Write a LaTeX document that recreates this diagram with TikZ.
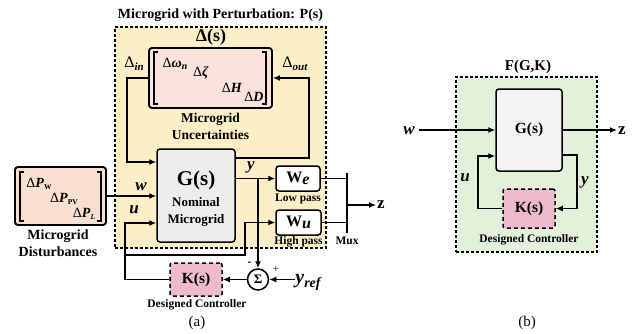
\documentclass[tikz,border=0pt]{standalone}
\usepackage{fontspec}
\setmainfont{Liberation Serif}
\usetikzlibrary{arrows.meta}
\definecolor{yel}{HTML}{FCEFC8}
\definecolor{grn}{HTML}{E3F0DA}
\definecolor{dpink}{HTML}{FAE3DA}
\definecolor{dist}{HTML}{F9DFCF}
\definecolor{kpink}{HTML}{EDBBCD}
\definecolor{ggray}{HTML}{EDEDED}
\begin{document}
\begin{tikzpicture}[x=1pt,y=-1pt,
  arr/.style={line width=1.3pt,-{Latex[length=7pt,width=6pt]}},
  ln/.style={line width=1.3pt},
  outerbox/.style={draw,dashed,line width=1.4pt,dash pattern=on 3pt off 2pt},
  blk/.style={draw,line width=1.5pt,rounded corners=3pt,inner sep=0pt},
  kbox/.style={draw,line width=1.5pt,dashed,dash pattern=on 4pt off 3pt,fill=kpink,rounded corners=2pt,inner sep=0pt,font=\bfseries\fontsize{15.5}{17}\selectfont},
  lbl/.style={font=\bfseries\fontsize{12}{14}\selectfont,inner sep=0pt,align=center},
  var/.style={font=\bfseries\itshape\fontsize{17}{19}\selectfont,inner sep=0pt},
  brk/.style={line width=1.3pt}
]
\useasboundingbox (0,0) rectangle (635,333);
% ---------- (a) ----------
\node[outerbox,fill=yel,minimum width=211pt,minimum height=221pt,inner sep=0pt] (P) at (220.5,137.5) {};
\node[lbl,font=\bfseries\fontsize{14}{16}\selectfont] (Ptitle) at (220.5,15) {Microgrid with Perturbation: P(s)};
\node[lbl,font=\bfseries\fontsize{18}{20}\selectfont] (Dtitle) at (211,37) {Δ(s)};
\node[blk,fill=dpink,minimum width=123pt,minimum height=60pt,line width=1.9pt] (D) at (210.5,78) {};
% brackets of uncertainty matrix
\draw[brk] (158,52) -- (154,52) -- (154,104) -- (158,104);
\draw[brk] (262,52) -- (266,52) -- (266,104) -- (262,104);
\node[inner sep=0pt,font=\fontsize{14}{16}\selectfont] (d1) at (175,64) {Δ\textbf{\textit{ω}}\raisebox{-0.3ex}{\fontsize{10}{11}\selectfont\textbf{\textit{n}}}};
\node[inner sep=0pt,font=\fontsize{14}{16}\selectfont] (d2) at (201,73) {Δ\textbf{\textit{ζ}}};
\node[inner sep=0pt,font=\fontsize{14}{16}\selectfont] (d3) at (232,88) {Δ\textbf{\textit{H}}};
\node[inner sep=0pt,font=\fontsize{14}{16}\selectfont] (d4) at (254,97) {Δ\textbf{\textit{D}}};
\node[lbl,font=\bfseries\fontsize{13.5}{17}\selectfont] (Dlab) at (210.5,126.5) {Microgrid\\Uncertainties};
\node[inner sep=0pt,font=\fontsize{16}{18}\selectfont] (Din) at (134,64) {Δ\raisebox{-0.4ex}{\fontsize{11}{12}\selectfont\textbf{\textit{in}}}};
\node[inner sep=0pt,font=\fontsize{16}{18}\selectfont] (Dout) at (295,64) {Δ\raisebox{-0.4ex}{\fontsize{11}{12}\selectfont\textbf{\textit{out}}}};
% nominal plant
\node[blk,fill=ggray,minimum width=78pt,minimum height=93pt] (G) at (196,195.5) {};
\node[lbl,font=\bfseries\fontsize{21}{23}\selectfont] (Gt) at (196,180) {G(s)};
\node[lbl,font=\bfseries\fontsize{13}{17}\selectfont] (Gl) at (196,212) {Nominal\\Microgrid};
% disturbances
\node[blk,fill=dist,minimum width=91pt,minimum height=58pt,line width=1.9pt] (W) at (60.5,196) {};
\draw[brk] (24,172) -- (20,172) -- (20,221) -- (24,221);
\draw[brk] (97,172) -- (101,172) -- (101,221) -- (97,221);
\node[inner sep=0pt,font=\fontsize{14}{16}\selectfont] (p1) at (39,184) {Δ\textbf{\textit{P}}\raisebox{-0.3ex}{\fontsize{7.5}{8}\selectfont\textbf{W}}};
\node[inner sep=0pt,font=\fontsize{14}{16}\selectfont] (p2) at (64,199) {Δ\textbf{\textit{P}}\raisebox{-0.3ex}{\fontsize{7.5}{8}\selectfont\textbf{PV}}};
\node[inner sep=0pt,font=\fontsize{14}{16}\selectfont] (p3) at (84,214) {Δ\textbf{\textit{P}}\raisebox{-0.3ex}{\fontsize{7.5}{8}\selectfont\textbf{\textit{L}}}};
\node[lbl,font=\bfseries\fontsize{14}{16.5}\selectfont] (Wlab) at (58,243) {Microgrid\\Disturbances};
% weights
\node[blk,fill=white,minimum width=44pt,minimum height=25pt,font=\bfseries\fontsize{16}{18}\selectfont] (We) at (298,178.5) {W\textit{\raisebox{-0.3ex}{e}}};
\node[lbl,font=\bfseries\fontsize{11.5}{12}\selectfont] (Wel) at (298,199) {Low pass};
\node[blk,fill=white,minimum width=45pt,minimum height=25pt,font=\bfseries\fontsize{16}{18}\selectfont] (Wu) at (298.5,222.5) {W\textit{\raisebox{-0.3ex}{u}}};
\node[lbl,font=\bfseries\fontsize{11.5}{12}\selectfont] (Wul) at (298.5,242) {High pass};
% mux
\coordinate (m1) at (347,173);
\coordinate (m2) at (347,233);
\draw[line width=2.8pt] (m1) -- (m2);
\node[lbl,font=\bfseries\fontsize{11.5}{12}\selectfont] (Mux) at (347,241) {Mux};
\node[font=\bfseries\fontsize{17}{19}\selectfont,inner sep=0pt] (z) at (381,205) {z};
% controller
\node[kbox,minimum width=52pt,minimum height=33pt] (K) at (196,279.5) {K(s)};
\node[lbl,font=\bfseries\fontsize{11.5}{12}\selectfont] (Kl) at (197,305) {Designed Controller};
\node[draw,circle,line width=1.5pt,minimum size=21pt,inner sep=0pt,font=\bfseries\fontsize{13}{14}\selectfont] (S) at (258,279.5) {Σ};
\node[inner sep=0pt,font=\bfseries\fontsize{12}{12}\selectfont] (minus) at (249.5,263.5) {-};
\node[inner sep=0pt,font=\fontsize{11}{12}\selectfont] (plus) at (276,269) {+};
\node[var,font=\bfseries\itshape\fontsize{20}{22}\selectfont] (yref) at (308,282) {y\raisebox{-0.45ex}{\fontsize{14}{15}\selectfont ref}};
\node[var] (wl) at (141,187) {w};
\node[var] (ul) at (134,210) {u};
\node[var] (yl) at (251,167) {y};
\node[inner sep=0pt,font=\fontsize{15}{17}\selectfont] (al) at (197,323) {(a)};
% connectors (a)
\draw[arr] (D.west) -- (127,78) |- (G.west |- 0,162);
\draw[arr] (G.east |- 0,158) -- (309,158) |- (D.east);
\draw[arr] (W.east) -- (G.west |- W.east);
\draw[arr] (G.east |- We.west) -- (We.west);
\draw[arr] (258,178.5) -- (S.north);
\draw[ln] (We.east) -- (m1 |- We.east);
\draw[ln] (Wu.east) -- (m1 |- Wu.east);
\draw[arr] (m1 |- z.west) -- ([xshift=-1pt]z.west);
\draw[arr] (K.west) -- (125,279.5) |- (G.west |- 0,223);
\draw[arr] (125,255) -| (245,222.5) -- (Wu.west);
\draw[arr] (S.west) -- (K.east);
\draw[arr] (yref.west |- S.east) -- (S.east);
% ---------- (b) ----------
\node[outerbox,fill=grn,minimum width=141pt,minimum height=175pt,inner sep=0pt] (F) at (526.5,164.5) {};
\node[lbl,font=\bfseries\fontsize{15}{17}\selectfont] (Ft) at (528,67) {F(G,K)};
\node[blk,fill=ggray!60,minimum width=66pt,minimum height=82pt,font=\bfseries\fontsize{15.5}{17}\selectfont] (Gb) at (529,130) {G(s)};
\node[kbox,minimum width=52pt,minimum height=39pt] (Kb) at (529,208.5) {K(s)};
\node[lbl,font=\bfseries\fontsize{11.5}{12}\selectfont] (Kbl) at (529,240) {Designed Controller};
\node[var] (wb) at (409,131) {w};
\node[font=\bfseries\fontsize{17}{19}\selectfont,inner sep=0pt] (zb) at (622,131) {z};
\node[var] (ub) at (465,178) {u};
\node[var] (yb) at (585,182) {y};
\node[inner sep=0pt,font=\fontsize{15}{17}\selectfont] (bl) at (527,323) {(b)};
\draw[arr] (wb.east |- Gb.west) ++(4,0) -- (Gb.west);
\draw[arr] (Gb.east) -- ([xshift=-1pt]zb.west |- Gb.east);
\draw[arr] (Gb.east |- 0,155) -- (577,155) |- (Kb.east);
\draw[arr] (Kb.west) -- (478,208.5) |- (Gb.west |- 0,156);
\end{tikzpicture}
\end{document}
